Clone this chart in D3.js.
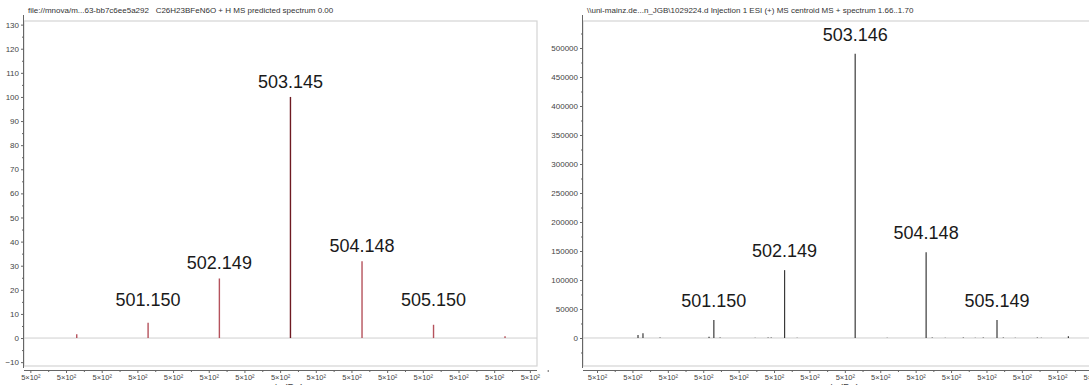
<!DOCTYPE html>
<html>
<head>
<meta charset="utf-8">
<script src="https://cdn.jsdelivr.net/npm/d3@7"></script>
<style>
  body { margin: 0; background: #fff; }
  svg { display: block; }
  .tick text { font-family: "Liberation Sans", Arial, sans-serif; }
</style>
</head>
<body>
<svg id="chart" width="1089" height="385"></svg>
<script>
// predicted spectrum (relative intensity)
const predMz = [500.150, 501.150, 502.149, 503.145, 504.148, 505.150, 506.152];
const predInt = [1.6, 6.3, 24.7, 100, 31.9, 5.5, 0.7];
const predLabels = ["", "501.150", "502.149", "503.145", "504.148", "505.150", ""];
const predYTicks = [-10, 0, 10, 20, 30, 40, 50, 60, 70, 80, 90, 100, 110, 120, 130];

// measured centroid spectrum (counts)
const measMz = [500.079, 500.149, 500.390, 501.082, 501.150, 501.238, 501.733, 501.916, 501.960,
                502.149, 502.326, 503.146, 503.598, 504.148, 504.234, 504.418, 504.673, 504.842,
                504.955, 505.149, 505.238, 505.407, 505.718, 505.775, 506.157];
const measInt = [5000, 8000, 800, 2000, 31000, 800, 600, 700, 700,
                 117000, 500, 490000, 600, 148000, 700, 600, 700, 600,
                 700, 31000, 700, 600, 800, 600, 3000];
const measLabels = ["", "", "", "", "501.150", "", "", "", "",
                    "502.149", "", "503.146", "", "504.148", "", "", "", "",
                    "", "505.149", "", "", "", "", ""];
const measYTicks = [0, 50000, 100000, 150000, 200000, 250000, 300000, 350000, 400000, 450000, 500000];

const xTicks = [499.5, 500, 500.5, 501, 501.5, 502, 502.5, 503, 503.5, 504, 504.5, 505, 505.5, 506, 506.5];
const xMinor = xTicks.map(d => d + 0.25);

const svg = d3.select("#chart");

function drawPanel(p) {
  const g = svg.append("g");
  const { left, right, top, bottom } = p.box;

  const x = d3.scaleLinear().domain(p.xDomain).range([left, right]);
  const y = d3.scaleLinear().domain(p.yDomain).range([bottom, top]);

  // title
  g.append("text")
    .attr("x", left + 4)
    .attr("y", top - 8)
    .attr("xml:space", "preserve")
    .style("white-space", "pre")
    .attr("font-family", "Liberation Sans, Arial, sans-serif")
    .attr("font-size", 8)
    .attr("fill", "#333")
    .text(p.title);

  // frame
  g.append("rect")
    .attr("x", left).attr("y", top)
    .attr("width", right - left).attr("height", bottom - top)
    .attr("fill", "none")
    .attr("stroke", "#d4d4d4")
    .attr("stroke-width", 1.2);

  // zero line
  g.append("line")
    .attr("x1", left).attr("x2", right)
    .attr("y1", y(0)).attr("y2", y(0))
    .attr("stroke", "#cfcfcf");

  // y axis
  const yAxis = g.append("g")
    .attr("transform", `translate(${left},0)`)
    .call(d3.axisLeft(y).tickValues(p.yTicks).tickSize(3).tickPadding(2).tickFormat(d3.format("d")));
  yAxis.select(".domain").attr("stroke", "#666").attr("d", `M-0.5,${top - 6}V${bottom + 2}`);
  yAxis.selectAll(".tick line").attr("stroke", "#666");
  yAxis.selectAll(".tick text").attr("font-size", 8).attr("fill", "#444");

  const yMinor = p.yTicks.map(d => d + p.yStep / 2).filter(d => d < p.yDomain[1]);
  if (p.yTicks[0] - p.yStep / 2 > p.yDomain[0]) yMinor.push(p.yTicks[0] - p.yStep / 2);
  g.append("g")
    .attr("transform", `translate(${left},0)`)
    .call(d3.axisLeft(y).tickValues(yMinor).tickSize(2).tickFormat(""))
    .call(a => a.select(".domain").remove())
    .selectAll("line").attr("stroke", "#666");

  // x axis (below frame)
  const axY = bottom + 4;
  const xAxis = g.append("g")
    .attr("transform", `translate(0,${axY})`)
    .call(d3.axisBottom(x).tickValues(xTicks).tickSize(3).tickPadding(2).tickFormat(() => "5×10²"));
  xAxis.select(".domain").attr("stroke", "#666").attr("d", `M${left},0.5H${right}`);
  xAxis.selectAll(".tick line").attr("stroke", "#666");
  xAxis.selectAll(".tick text").attr("font-size", 7.5).attr("fill", "#444");

  g.append("g")
    .attr("transform", `translate(0,${axY})`)
    .call(d3.axisBottom(x).tickValues(xMinor).tickSize(2).tickFormat(""))
    .call(a => a.select(".domain").remove())
    .selectAll("line").attr("stroke", "#666");

  g.append("text")
    .attr("x", (left + Math.min(right, 1089)) / 2 + 4)
    .attr("y", 392)
    .attr("text-anchor", "middle")
    .attr("font-family", "Liberation Sans, Arial, sans-serif")
    .attr("font-size", 10)
    .attr("fill", "#444")
    .text("m/z (Da)");

  // peaks
  const peaks = p.mz.map((m, i) => ({ mz: m, v: p.int[i], label: p.labels[i] }));
  g.append("g")
    .selectAll("line")
    .data(peaks)
    .enter()
    .append("line")
    .attr("x1", d => x(d.mz)).attr("x2", d => x(d.mz))
    .attr("y1", y(0)).attr("y2", d => y(d.v))
    .attr("stroke", d => p.color(d))
    .attr("stroke-width", p.peakWidth);

  // labels sit above the peak, but never below a floor line
  g.append("g")
    .selectAll("text")
    .data(peaks.filter(d => d.label))
    .enter()
    .append("text")
    .attr("x", d => x(d.mz))
    .attr("y", d => Math.min(y(d.v) - p.labelGap, p.labelFloor))
    .attr("text-anchor", "middle")
    .attr("font-family", "Liberation Sans, Arial, sans-serif")
    .attr("font-size", 18)
    .attr("fill", "#1a1a1a")
    .text(d => d.label);
}

drawPanel({
  title: "file://mnova/m...63-bb7c6ee5a292   C26H23BFeN6O + H MS predicted spectrum 0.00",
  box: { left: 24, right: 537, top: 21, bottom: 366 },
  xDomain: [499.411, 506.600],
  yDomain: [-11.6, 131.5],
  yTicks: predYTicks,
  yStep: 10,
  mz: predMz, int: predInt, labels: predLabels,
  color: d => d.v === 100 ? "#6e1a22" : "#b5525c",
  peakWidth: 1.4,
  labelGap: 9,
  labelFloor: 306
});

drawPanel({
  title: "\\\\uni-mainz.de...n_JGB\\1029224.d Injection 1 ESI (+) MS centroid MS + spectrum 1.66..1.70",
  box: { left: 583, right: 1095, top: 21, bottom: 366 },
  xDomain: [499.302, 506.533],
  yDomain: [-48276, 546552],
  yTicks: measYTicks,
  yStep: 50000,
  mz: measMz, int: measInt, labels: measLabels,
  color: () => "#3a3a3a",
  peakWidth: 1.2,
  labelGap: 13,
  labelFloor: 312
});
</script>
</body>
</html>
